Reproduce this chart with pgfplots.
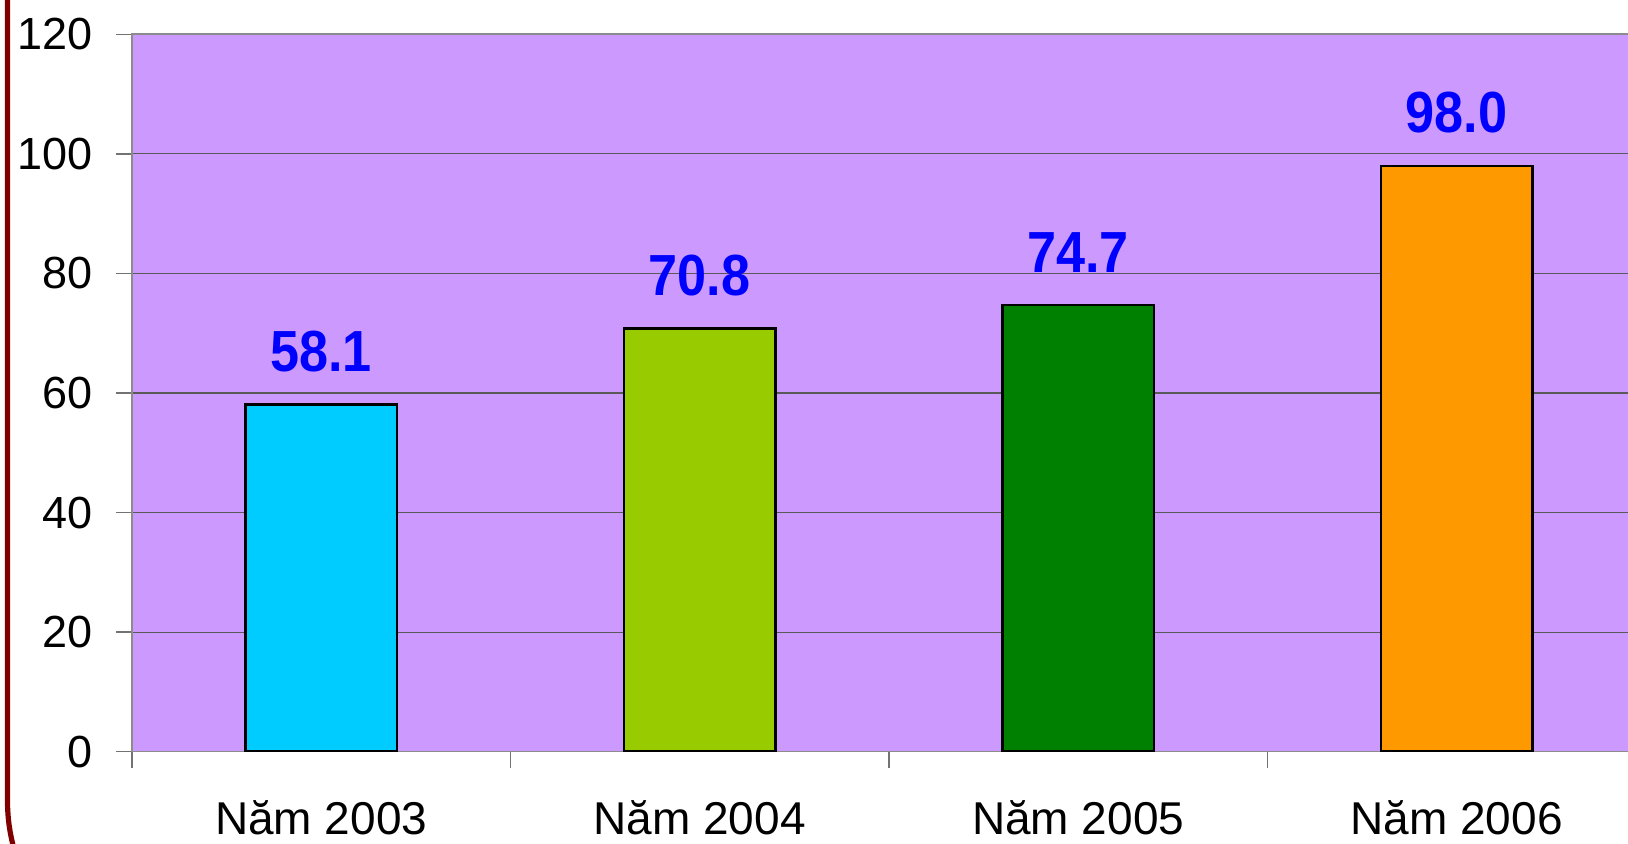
\documentclass[border=0pt]{standalone}
\usepackage{fontspec}
\setmainfont{Liberation Sans}
\newfontfamily\labfont[FakeStretch=0.9]{Liberation Sans Bold}
\usepackage{pgfplots}
\pgfplotsset{compat=1.18}
\definecolor{plotbg}{HTML}{CC99FF}
\definecolor{cA}{HTML}{00CCFF}
\definecolor{cB}{HTML}{99CC00}
\definecolor{cC}{HTML}{008000}
\definecolor{cD}{HTML}{FF9900}
\definecolor{darkred}{HTML}{800000}
\definecolor{numblue}{HTML}{0000FF}
\begin{document}
\begin{tikzpicture}
\path[use as bounding box] (0,0) rectangle (814pt,422pt);
\clip (0,0) rectangle (814pt,422pt);
\draw[darkred, line width=2.6pt, rounded corners=89pt] (3.75pt,440pt) -- (3.75pt,-67.5pt) -- (600pt,-67.5pt);
\begin{axis}[
  at={(65.95pt,46.15pt)}, anchor=south west,
  width=757pt, height=358.7pt, scale only axis,
  xmin=-0.5, xmax=3.5, ymin=0, ymax=120,
  ytick={0,20,...,120},
  xtick={-0.5,0.5,1.5,2.5,3.5},
  xtick pos=bottom, ytick pos=left,
  x tick label as interval,
  xticklabels={Năm 2003,Năm 2004,Năm 2005,Năm 2006},
  axis background/.style={fill=plotbg},
  axis line style={draw=black!45, line width=0.8pt},
  ymajorgrids, grid style={draw=black!65, line width=0.6pt},
  tick align=outside, major tick length=8pt,
  tick style={draw=black!55, line width=0.7pt},
  /pgf/number format/assume math mode=true,
  yticklabel style={font=\fontsize{22.5}{27}\selectfont, anchor=east, inner sep=0pt, xshift=-11.5pt},
  xticklabel style={font=\fontsize{23}{27}\selectfont, anchor=base, inner sep=0pt, yshift=-33.6pt},
  nodes near coords,
  point meta=y,
  nodes near coords style={font=\fontsize{29}{32}\labfont, text=numblue, anchor=base, inner sep=0pt, yshift=16.5pt,
    /pgf/number format/.cd, fixed, fixed zerofill, precision=1},
]
\addplot[ybar, bar width=0.4, bar shift=0pt, fill=cA, draw=black, line width=1.2pt] coordinates {(0,58.1)};
\addplot[ybar, bar width=0.4, bar shift=0pt, fill=cB, draw=black, line width=1.2pt] coordinates {(1,70.8)};
\addplot[ybar, bar width=0.4, bar shift=0pt, fill=cC, draw=black, line width=1.2pt] coordinates {(2,74.7)};
\addplot[ybar, bar width=0.4, bar shift=0pt, fill=cD, draw=black, line width=1.2pt] coordinates {(3,98.0)};
\end{axis}
\end{tikzpicture}
\end{document}
